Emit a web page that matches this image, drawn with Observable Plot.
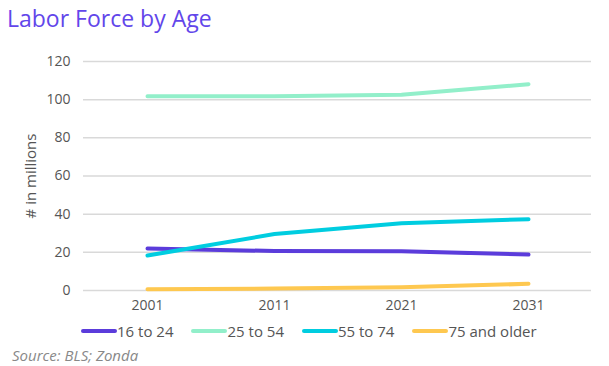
<!DOCTYPE html>
<html>
<head>
<meta charset="utf-8">
<script src="https://cdn.jsdelivr.net/npm/d3@7"></script>
<script src="https://cdn.jsdelivr.net/npm/@observablehq/plot@0.6"></script>
<style>
  html, body { margin: 0; padding: 0; background: #fff; }
  body { width: 609px; height: 366px; overflow: hidden; font-family: "Open Sans", Lato, sans-serif; }
  #title { height: 40px; box-sizing: border-box; padding: 3px 0 0 7px; font-size: 23px; color: #6246ea; line-height: 30px; }
  #chart { height: 275px; }
  #legend { display: flex; align-items: center; height: 32px; padding-left: 80px; font-size: 15px; color: #555; }
  #legend .item { display: flex; align-items: center; margin-right: 17px; }
  #caption { padding-left: 12px; font-size: 15px; font-style: italic; color: #888; line-height: 16px; }
</style>
</head>
<body>
<div id="title">Labor Force by Age</div>
<div id="chart"></div>
<div id="legend"></div>
<div id="caption">Source: BLS; Zonda</div>
<script>
const years = ["2001", "2011", "2021", "2031"];
const seriesNames = ["16 to 24", "25 to 54", "55 to 74", "75 and older"];
const age16to24 = [22.0, 20.7, 20.6, 18.8];
const age25to54 = [101.8, 101.8, 102.6, 108.1];
const age55to74 = [18.3, 29.6, 35.3, 37.4];
const age75plus = [0.6, 1.0, 1.7, 3.5];
const colors = ["#5b3cdb", "#92efca", "#00cde0", "#fec850"];
const yTicks = [0, 20, 40, 60, 80, 100, 120];

const allValues = [age16to24, age25to54, age55to74, age75plus];
const data = [];
seriesNames.forEach((s, i) => {
  years.forEach((yr, j) => data.push({series: s, year: yr, value: allValues[i][j]}));
});

const chart = Plot.plot({
  width: 609,
  height: 275,
  marginTop: 21,
  marginBottom: 25,
  marginLeft: 83,
  marginRight: 18,
  style: {fontFamily: "'Open Sans', Lato, sans-serif", fontSize: "14px", color: "#555", background: "transparent"},
  x: {type: "point", domain: years, padding: 0.5, label: null},
  y: {domain: [0, 120], label: null},
  color: {domain: seriesNames, range: colors},
  marks: [
    Plot.ruleY(yTicks, {stroke: "#d9d9d9", strokeWidth: 1.5}),
    Plot.axisX({tickSize: 0, tickPadding: 10, fontSize: 14, label: null}),
    Plot.axisY(yTicks, {tickSize: 0, tickPadding: 13, fontSize: 14, label: "# in millions", labelAnchor: "center", labelArrow: "none", labelOffset: 58}),
    Plot.line(data, {x: "year", y: "value", z: "series", stroke: "series", strokeWidth: 4, curve: "linear", strokeLinecap: "round", strokeLinejoin: "round"})
  ]
});
chart.querySelectorAll("g[aria-label='y-axis label'] text").forEach(t => t.setAttribute("font-size", "15"));
document.getElementById("chart").appendChild(chart);

const legend = document.getElementById("legend");
seriesNames.forEach((s, i) => {
  const item = document.createElement("div");
  item.className = "item";
  item.innerHTML = `<svg width="37" height="8"><line x1="3" y1="4" x2="35" y2="4" stroke="${colors[i]}" stroke-width="4" stroke-linecap="round"/></svg><span>${s}</span>`;
  legend.appendChild(item);
});
</script>
</body>
</html>
